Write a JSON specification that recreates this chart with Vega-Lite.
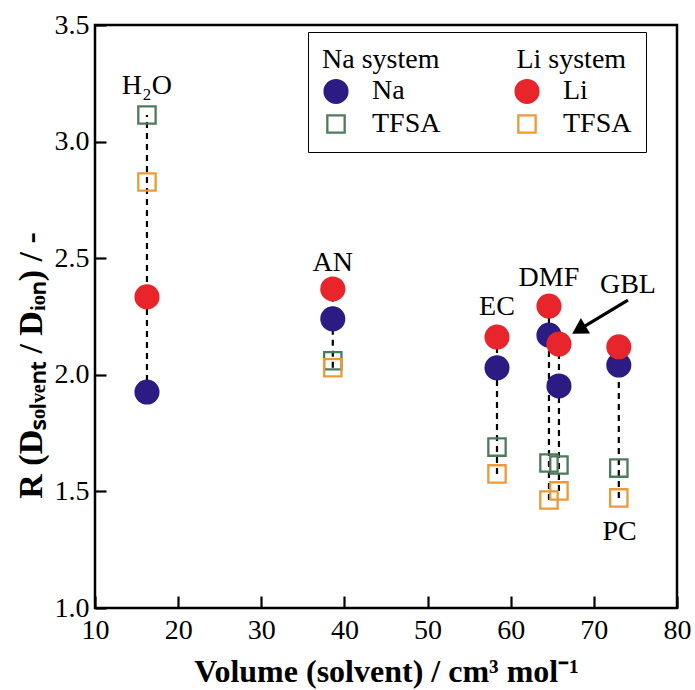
{
  "$schema": "https://vega.github.io/schema/vega-lite/v6.json",
  "width": 582,
  "height": 583,
  "autosize": "none",
  "padding": {"left": 95, "top": 25, "right": 18, "bottom": 82},
  "background": "white",
  "config": {
    "view": {"stroke": "black", "strokeWidth": 2.5},
    "font": "Liberation Serif",
    "style": {
      "guide-label": {"font": "Liberation Serif"},
      "guide-title": {"font": "Liberation Serif"}
    },
    "legend": {
      "orient": "none", "legendX": 213, "legendY": 7, "columns": 2,
      "padding": 14, "strokeColor": "black", "fillColor": "white", "columnPadding": 69, "rowPadding": 2, "labelOffset": 22,
      "labelFont": "Liberation Serif", "labelFontSize": 28, "labelColor": "black", "labelLimit": 300,
      "titleFont": "Liberation Serif", "titleFontSize": 28, "titleFontWeight": "normal", "titleColor": "black", "titlePadding": 3, "titleLimit": 500,
      "symbolStrokeWidth": 2.3
    }
  },
  "datasets": {
    "points": [
      {"solvent": "H2O", "V": 16.25, "series": "Na TFSA", "R": 3.114},
      {"solvent": "H2O", "V": 16.25, "series": "Li TFSA", "R": 2.827},
      {"solvent": "AN", "V": 38.6, "series": "Na TFSA", "R": 2.06},
      {"solvent": "AN", "V": 38.6, "series": "Li TFSA", "R": 2.03},
      {"solvent": "EC", "V": 58.35, "series": "Na TFSA", "R": 1.69},
      {"solvent": "EC", "V": 58.35, "series": "Li TFSA", "R": 1.575},
      {"solvent": "DMF", "V": 64.6, "series": "Na TFSA", "R": 1.622},
      {"solvent": "DMF", "V": 64.6, "series": "Li TFSA", "R": 1.463},
      {"solvent": "GBL", "V": 65.8, "series": "Na TFSA", "R": 1.613},
      {"solvent": "GBL", "V": 65.8, "series": "Li TFSA", "R": 1.502},
      {"solvent": "PC", "V": 73.0, "series": "Na TFSA", "R": 1.6},
      {"solvent": "PC", "V": 73.0, "series": "Li TFSA", "R": 1.472},
      {"solvent": "H2O", "V": 16.25, "series": "Na", "R": 1.926},
      {"solvent": "H2O", "V": 16.25, "series": "Li", "R": 2.334},
      {"solvent": "AN", "V": 38.6, "series": "Na", "R": 2.24},
      {"solvent": "AN", "V": 38.6, "series": "Li", "R": 2.368},
      {"solvent": "EC", "V": 58.35, "series": "Na", "R": 2.03},
      {"solvent": "EC", "V": 58.35, "series": "Li", "R": 2.162},
      {"solvent": "DMF", "V": 64.6, "series": "Na", "R": 2.17},
      {"solvent": "DMF", "V": 64.6, "series": "Li", "R": 2.295},
      {"solvent": "GBL", "V": 65.8, "series": "Na", "R": 1.952},
      {"solvent": "GBL", "V": 65.8, "series": "Li", "R": 2.132},
      {"solvent": "PC", "V": 73.0, "series": "Na", "R": 2.042},
      {"solvent": "PC", "V": 73.0, "series": "Li", "R": 2.12}
    ],
    "labels": [
      {"label": "H₂O", "V": 16.25, "R": 3.24},
      {"label": "AN", "V": 38.6, "R": 2.48},
      {"label": "EC", "V": 58.35, "R": 2.29},
      {"label": "DMF", "V": 64.6, "R": 2.415},
      {"label": "GBL", "V": 74.1, "R": 2.385},
      {"label": "PC", "V": 73.1, "R": 1.326}
    ],
    "arrow": [
      {"V": 74.1, "R": 2.32, "o": 0},
      {"V": 68.46, "R": 2.199, "o": 1}
    ],
    "arrowhead": [
      {"V": 68.46, "R": 2.199}
    ]
  },
  "layer": [
    {
      "data": {"name": "points"},
      "transform": [
        {"aggregate": [{"op": "min", "field": "R", "as": "Rmin"}, {"op": "max", "field": "R", "as": "Rmax"}], "groupby": ["solvent", "V"]}
      ],
      "mark": {"type": "rule", "color": "black", "strokeWidth": 2.2, "strokeDash": [6, 5]},
      "encoding": {
        "x": {"field": "V", "type": "quantitative", "scale": {"domain": [10, 80], "nice": false},
          "axis": {"title": "Volume (solvent) / cm³ mol⁻¹", "values": [10, 20, 30, 40, 50, 60, 70, 80], "format": "d", "grid": false, "domain": false,
            "tickSize": -12, "tickWidth": 2.2, "tickColor": "black", "labelPadding": 20, "labelFlush": false,
            "labelFont": "Liberation Serif", "labelFontSize": 28, "labelColor": "black",
            "titleFont": "Liberation Serif", "titleFontSize": 32, "titleFontWeight": "bold", "titleColor": "black", "titlePadding": 12}},
        "y": {"field": "Rmin", "type": "quantitative", "scale": {"domain": [1, 3.5], "nice": false},
          "axis": {"title": "R (Dₛₒₗᵥₑₙₜ / Dᵢₒₙ) / -", "values": [1, 1.5, 2, 2.5, 3, 3.5], "format": ".1f", "grid": false, "domain": false,
            "tickSize": -11, "tickWidth": 2.2, "tickColor": "black", "labelPadding": 17, "labelFlush": false,
            "labelFont": "Liberation Serif", "labelFontSize": 28, "labelColor": "black",
            "titleFont": "Liberation Serif", "titleFontSize": 34, "titleFontWeight": "bold", "titleColor": "black", "titlePadding": 6, "titleY": 340}},
        "y2": {"field": "Rmax"}
      }
    },
    {
      "data": {"name": "points"},
      "mark": {"type": "point", "strokeWidth": 2.3, "opacity": 1},
      "encoding": {
        "x": {"field": "V", "type": "quantitative", "scale": {"domain": [10, 80], "nice": false}},
        "y": {"field": "R", "type": "quantitative", "scale": {"domain": [1, 3.5], "nice": false}},
        "fill": {"field": "series", "type": "nominal",
          "scale": {"domain": ["Na", "Na TFSA", "Li", "Li TFSA"], "range": ["#2b1b82", "transparent", "#e8252b", "transparent"]},
          "legend": {"title": "Na system\u00a0\u00a0\u00a0\u00a0\u00a0\u00a0\u00a0\u00a0\u00a0\u00a0\u00a0Li system", "labelFont": "Liberation Serif",
            "labelExpr": "datum.label == 'Na' || datum.label == 'Li' ? datum.label : 'TFSA'",
            "encode": {"legend": {"update": {"strokeWidth": {"value": 2.5}}}}}},
        "stroke": {"field": "series", "type": "nominal",
          "scale": {"domain": ["Na", "Na TFSA", "Li", "Li TFSA"], "range": ["#2b1b82", "#4e7a5c", "#e8252b", "#eb9a38"]},
          "legend": {"title": "Na system\u00a0\u00a0\u00a0\u00a0\u00a0\u00a0\u00a0\u00a0\u00a0\u00a0\u00a0Li system", "labelFont": "Liberation Serif",
            "labelExpr": "datum.label == 'Na' || datum.label == 'Li' ? datum.label : 'TFSA'"}},
        "shape": {"field": "series", "type": "nominal",
          "scale": {"domain": ["Na", "Na TFSA", "Li", "Li TFSA"], "range": ["circle", "square", "circle", "square"]},
          "legend": {"title": "Na system\u00a0\u00a0\u00a0\u00a0\u00a0\u00a0\u00a0\u00a0\u00a0\u00a0\u00a0Li system", "labelFont": "Liberation Serif",
            "labelExpr": "datum.label == 'Na' || datum.label == 'Li' ? datum.label : 'TFSA'"}},
        "size": {"field": "series", "type": "nominal",
          "scale": {"type": "ordinal", "domain": ["Na", "Na TFSA", "Li", "Li TFSA"], "range": [520, 300, 520, 300]},
          "legend": {"title": "Na system\u00a0\u00a0\u00a0\u00a0\u00a0\u00a0\u00a0\u00a0\u00a0\u00a0\u00a0Li system", "labelFont": "Liberation Serif",
            "labelExpr": "datum.label == 'Na' || datum.label == 'Li' ? datum.label : 'TFSA'"}}
      }
    },
    {
      "data": {"name": "labels"},
      "mark": {"type": "text", "font": "Liberation Serif", "fontSize": 28, "color": "black", "align": "center", "baseline": "middle"},
      "encoding": {
        "x": {"field": "V", "type": "quantitative", "scale": {"domain": [10, 80], "nice": false}},
        "y": {"field": "R", "type": "quantitative", "scale": {"domain": [1, 3.5], "nice": false}},
        "text": {"field": "label"}
      }
    },
    {
      "data": {"name": "arrow"},
      "mark": {"type": "line", "color": "black", "strokeWidth": 3.2},
      "encoding": {
        "x": {"field": "V", "type": "quantitative", "scale": {"domain": [10, 80], "nice": false}},
        "y": {"field": "R", "type": "quantitative", "scale": {"domain": [1, 3.5], "nice": false}},
        "order": {"field": "o"}
      }
    },
    {
      "data": {"name": "arrowhead"},
      "mark": {"type": "point", "shape": "triangle", "filled": true, "color": "black", "size": 320, "angle": 239, "opacity": 1},
      "encoding": {
        "x": {"field": "V", "type": "quantitative", "scale": {"domain": [10, 80], "nice": false}},
        "y": {"field": "R", "type": "quantitative", "scale": {"domain": [1, 3.5], "nice": false}}
      }
    }
  ]
}
